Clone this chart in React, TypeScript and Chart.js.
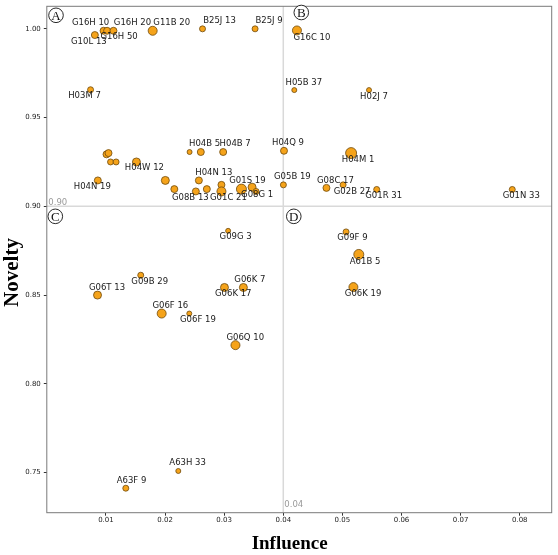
import React, { useEffect, useRef } from 'react';
import { Chart, registerables } from 'chart.js';

Chart.register(...registerables);

// ---- data ----
const pointLabels: string[] = [
  'G16H 10', 'G16H 50', 'G16H 20', 'G10L 13', 'G11B 20', 'B25J 13', 'B25J 9', 'H03M 7',
  '', '', '', '', 'H04W 12', 'H04N 19', '', '', 'H04B 5', '', 'H04B 7', 'H04N 13',
  'G08B 13', '', '', 'G01C 21', 'G01S 19', '', 'G08G 1',
  'G16C 10', 'H05B 37', 'H02J 7', 'H04Q 9', 'H04M 1', 'G05B 19', 'G08C 17', 'G02B 27', 'G01R 31', 'G01N 33',
  'G09G 3', 'G09B 29', 'G06T 13', 'G06F 16', 'G06F 19', 'G06K 17', 'G06K 7', 'G06Q 10', 'A63H 33', 'A63F 9',
  'G09F 9', 'A61B 5', 'G06K 19',
];

const influence: number[] = [
  0.0096, 0.0102, 0.01128, 0.00813, 0.01791, 0.02634, 0.03523, 0.0074,
  0.0101, 0.01044, 0.01078, 0.01172, 0.01516, 0.00863, 0.02005, 0.02157, 0.02415, 0.02605, 0.02983, 0.02572,
  0.02521, 0.02707, 0.02954, 0.02954, 0.03292, 0.03472, 0.0354,
  0.04231, 0.04186, 0.0545, 0.04012, 0.05147, 0.04002, 0.0473, 0.05012, 0.0558, 0.07873,
  0.03067, 0.01589, 0.00858, 0.01943, 0.0241, 0.03005, 0.03325, 0.03191, 0.02224, 0.01336,
  0.05062, 0.05277, 0.05186,
];

const novelty: number[] = [
  0.9989, 0.9989, 0.9989, 0.9965, 0.9989, 1.0, 1.0, 0.9657,
  0.9293, 0.93, 0.925, 0.925, 0.925, 0.9146, 0.9146, 0.9097, 0.9306, 0.9306, 0.9306, 0.9146,
  0.9084, 0.9097, 0.9121, 0.9084, 0.9097, 0.9108, 0.9084,
  0.9991, 0.9655, 0.9655, 0.9313, 0.93, 0.9121, 0.9104, 0.9121, 0.9095, 0.9095,
  0.8862, 0.8612, 0.85, 0.8396, 0.8396, 0.8543, 0.8543, 0.8218, 0.7509, 0.7412,
  0.8856, 0.8729, 0.8545,
];

const bubbleSize: number[] = [
  3.5, 3.5, 3.5, 3.5, 4.5, 3, 3, 3,
  3.5, 3.5, 3, 3, 4, 3.5, 4, 3.5, 2.5, 3.5, 3.5, 3.5,
  3.5, 3.5, 3.5, 4.5, 5, 4, 3,
  4.5, 2.5, 2.5, 3.5, 5.5, 3, 3.5, 3, 3, 3,
  2.5, 3, 4, 4.5, 2.5, 4, 4, 4.5, 2.5, 3,
  3, 5, 4.5,
];

const xTickValues: number[] = [0.01, 0.02, 0.03, 0.04, 0.05, 0.06, 0.07, 0.08];
const yTickValues: number[] = [0.75, 0.8, 0.85, 0.9, 0.95, 1.0];
const quadrantLetters: string[] = ['A', 'B', 'C', 'D'];
const thresholdX = 0.04;
const thresholdY = 0.9;
const xAxisTitle = 'Influence';
const yAxisTitle = 'Novelty';

// ---- label placement (pixel offsets of text centre from the point) ----
const labelOffsets: [number, number][] = [
  [-13, -8], [12, 6], [19, -8], [-6, 7], [19, -8], [17, -8], [14, -8], [-6, 6],
  [0, 0], [0, 0], [0, 0], [0, 0], [8, 6], [-5.5, 6], [0, 0], [0, 0], [15, -8], [0, 0], [12, -8], [15, -8],
  [-5.5, 6.5], [0, 0], [0, 0], [7, 6.5], [6, -8], [0, 0], [1, 3.5],
  [15, 7], [9.5, -7], [5, 7], [4, -8], [7, 7], [9, -8.5], [9, -7.5], [9, 6.5], [7, 6], [9, 6],
  [7.5, 6], [9, 6.5], [9.5, -7.7], [8.7, -8], [8.6, 6], [8.8, 6.7], [6.5, -7.3], [9.8, -7.3], [9.3, -7.7], [5.7, -7.3],
  [6.3, 6], [6.3, 7.3], [9.7, 6.6],
];

const overlayPlugin = {
  id: 'overlay',
  beforeDatasetsDraw(chart: any) {
    const ctx = chart.ctx;
    const { left, right, top, bottom } = chart.chartArea;
    const xs = chart.scales.x;
    const ys = chart.scales.y;
    const lx = xs.getPixelForValue(thresholdX);
    const ly = ys.getPixelForValue(thresholdY);
    ctx.save();
    ctx.strokeStyle = '#d9d9d9';
    ctx.lineWidth = 1.5;
    ctx.beginPath();
    ctx.moveTo(left, ly);
    ctx.lineTo(right, ly);
    ctx.moveTo(lx, top);
    ctx.lineTo(lx, bottom);
    ctx.stroke();
    ctx.fillStyle = '#9a9a9a';
    ctx.font = '8.5px "DejaVu Sans"';
    ctx.textAlign = 'center';
    ctx.textBaseline = 'middle';
    ctx.fillText(thresholdY.toFixed(2), left + 11, ly - 4);
    ctx.fillText(thresholdX.toFixed(2), lx + 10.5, bottom - 7.5);
    ctx.restore();
  },
  afterDatasetsDraw(chart: any) {
    const ctx = chart.ctx;
    const { left, right, top, bottom } = chart.chartArea;
    const xs = chart.scales.x;
    const ys = chart.scales.y;
    const lx = xs.getPixelForValue(thresholdX);
    const ly = ys.getPixelForValue(thresholdY);
    const meta = chart.getDatasetMeta(0);
    ctx.save();
    // point labels
    ctx.fillStyle = '#1a1a1a';
    ctx.font = '8.5px "DejaVu Sans"';
    ctx.textAlign = 'center';
    ctx.textBaseline = 'middle';
    pointLabels.forEach((lab, i) => {
      if (!lab) return;
      const el = meta.data[i];
      const off = labelOffsets[i] || [0, -8];
      ctx.fillText(lab, el.x + off[0], el.y + off[1]);
    });
    // frame
    ctx.strokeStyle = '#7a7a7a';
    ctx.lineWidth = 1;
    ctx.strokeRect(left, top, right - left, bottom - top);
    // quadrant marks
    const qpos: [number, number][] = [
      [left + 9.2, top + 9],
      [lx + 18, top + 6.2],
      [left + 8.5, ly + 10],
      [lx + 10.5, ly + 10],
    ];
    quadrantLetters.forEach((q, i) => {
      const [cx, cy] = qpos[i];
      ctx.beginPath();
      ctx.arc(cx, cy, 7.3, 0, Math.PI * 2);
      ctx.fillStyle = '#ffffff';
      ctx.fill();
      ctx.strokeStyle = '#111';
      ctx.lineWidth = 0.9;
      ctx.stroke();
      ctx.fillStyle = '#111';
      ctx.font = '13px "Liberation Serif"';
      ctx.textAlign = 'center';
      ctx.textBaseline = 'middle';
      ctx.fillText(q, cx, cy + 1);
    });
    // axis titles
    ctx.fillStyle = '#000';
    ctx.font = 'bold 19px "Liberation Serif"';
    ctx.textAlign = 'center';
    ctx.textBaseline = 'alphabetic';
    ctx.fillText(xAxisTitle, left + (right - left) * 0.481, 549);
    ctx.save();
    ctx.translate(17.5, (top + bottom) / 2 + 13);
    ctx.rotate(-Math.PI / 2);
    ctx.font = 'bold 21px "Liberation Serif"';
    ctx.fillText(yAxisTitle, 0, 0);
    ctx.restore();
    ctx.restore();
  },
};

export default function App() {
  const canvasRef = useRef<HTMLCanvasElement | null>(null);

  useEffect(() => {
    if (!canvasRef.current) return;
    const data = pointLabels.map((_, i) => ({ x: influence[i], y: novelty[i], r: bubbleSize[i] }));
    const chart = new Chart(canvasRef.current, {
      type: 'bubble',
      data: {
        datasets: [
          {
            data,
            backgroundColor: '#F5A31A',
            borderColor: '#6e4a0c',
            borderWidth: 0.8,
          },
        ],
      },
      options: {
        animation: false,
        responsive: false,
        devicePixelRatio: 1,
        layout: { padding: { left: 0, top: 0.5, right: 5, bottom: 0 } },
        plugins: {
          legend: { display: false },
          tooltip: { enabled: false },
          title: { display: false },
        },
        scales: {
          x: {
            type: 'linear',
            min: 0,
            max: 0.0854,
            border: { display: false },
            grid: { display: true, drawOnChartArea: false, drawTicks: true, tickLength: 3, tickColor: '#333' },
            afterBuildTicks: (scale: any) => {
              scale.ticks = xTickValues.map((v) => ({ value: v }));
            },
            afterFit: (scale: any) => {
              scale.height = 42.3;
              scale.paddingLeft = 0;
              scale.paddingRight = 0;
            },
            ticks: {
              padding: 0,
              color: '#222',
              font: { family: 'DejaVu Sans', size: 7 },
              maxRotation: 0,
              callback: (v: any) => Number(v).toFixed(2),
            },
          },
          y: {
            type: 'linear',
            min: 0.7274,
            max: 1.0127,
            border: { display: false },
            grid: { display: true, drawOnChartArea: false, drawTicks: true, tickLength: 3, tickColor: '#333' },
            afterBuildTicks: (scale: any) => {
              scale.ticks = yTickValues.map((v) => ({ value: v }));
            },
            afterFit: (scale: any) => {
              scale.width = 46.8;
              scale.paddingTop = 0;
              scale.paddingBottom = 0;
            },
            ticks: {
              padding: 3,
              color: '#222',
              font: { family: 'DejaVu Sans', size: 7 },
              callback: (v: any) => Number(v).toFixed(2),
            },
          },
        },
      },
      plugins: [overlayPlugin],
    } as any);
    return () => chart.destroy();
  }, []);

  return (
    <div style={{ position: 'absolute', left: 0, top: 0, width: 558, height: 555, background: '#fff' }}>
      <canvas ref={canvasRef} width={558} height={555} style={{ width: 558, height: 555, display: 'block' }} />
    </div>
  );
}
